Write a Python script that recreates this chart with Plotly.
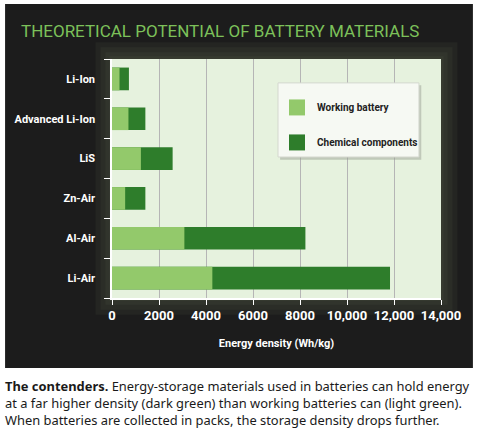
import plotly.graph_objects as go

## data
materials = ['Li-Ion', 'Advanced Li-Ion', 'LiS', 'Zn-Air', 'Al-Air', 'Li-Air']
working_battery = [320, 700, 1230, 560, 3080, 4270]
chemical_components = [720, 1420, 2580, 1420, 8230, 11830]  # total length of dark bar

x_ticks = [0, 2000, 4000, 6000, 8000, 10000, 12000, 14000]
x_ticklabels = ['0', '2000', '4000', '6000', '8000', '10,000', '12,000', '14,000']

LIGHT = '#93c96b'
DARK = '#2e7d2b'
PANEL = '#1c1c1c'
PLOT_BG = '#e6f2de'
FONT = 'Roboto'

fig = go.Figure()

## dark bar first, light one overlays it
fig.add_trace(go.Bar(y=materials, x=chemical_components, orientation='h',
                     marker=dict(color=DARK, line=dict(width=0)),
                     showlegend=False, hoverinfo='x'))
fig.add_trace(go.Bar(y=materials, x=working_battery, orientation='h',
                     marker=dict(color=LIGHT, line=dict(width=0)),
                     showlegend=False, hoverinfo='x'))

## legend entries (square swatches)
fig.add_trace(go.Scatter(x=[None], y=[None], mode='markers', name='Working battery',
                         marker=dict(symbol='square', size=16, color=LIGHT),
                         legendgroup='a'))
fig.add_trace(go.Scatter(x=[None], y=[None], mode='markers', name='Chemical components',
                         marker=dict(symbol='square', size=16, color=DARK),
                         legendgroup='b'))

shapes = [
    dict(type='rect', xref='paper', yref='paper', x0=-0.325, x1=1.097, y0=-0.293, y1=1.23,
         fillcolor=PANEL, line=dict(width=0), layer='below'),
]
## soft glow round the plot area
for pad in [0.05, 0.035, 0.02, 0.008]:
    shapes.append(dict(type='rect', xref='paper', yref='paper',
                       x0=-pad, x1=1 + pad, y0=-pad * 1.4, y1=1 + pad * 1.4,
                       fillcolor='#8a9a6e', opacity=0.07, line=dict(width=0), layer='below'))
shapes.append(dict(type='rect', xref='paper', yref='paper', x0=0, x1=1, y0=0, y1=1,
                   fillcolor=PLOT_BG, line=dict(width=0), layer='below'))
## legend box with a little shadow
shapes.append(dict(type='rect', xref='paper', yref='paper', x0=0.511, x1=0.94, y0=0.578, y1=0.89,
                   fillcolor='#9aa094', opacity=0.5, line=dict(width=0), layer='above'))
shapes.append(dict(type='rect', xref='paper', yref='paper', x0=0.5046, x1=0.933, y0=0.59, y1=0.9,
                   fillcolor='#f6f9f3', line=dict(color='#d4d8cf', width=1), layer='above'))

fig.update_layout(
    width=480, height=436,
    margin=dict(l=112, r=39, t=59, b=138),
    paper_bgcolor='white',
    plot_bgcolor='rgba(0,0,0,0)',
    barmode='overlay',
    bargap=0.43,
    shapes=shapes,
    font=dict(family=FONT, color='white'),
    legend=dict(x=0.5015, y=0.858, xanchor='left', yanchor='top',
                bgcolor='rgba(0,0,0,0)', borderwidth=0,
                font=dict(family=FONT, size=10, color='#222222', weight='bold'),
                tracegroupgap=16, traceorder='grouped', itemwidth=30),
    xaxis=dict(range=[0, 14000], tickvals=x_ticks, ticktext=x_ticklabels,
               showgrid=True, gridcolor='#b5b5b5', gridwidth=1,
               showline=True, linecolor='white', linewidth=1.5,
               ticks='outside', ticklen=5, tickcolor='white',
               tickfont=dict(family=FONT, size=13, color='white', weight='bold'),
               title=dict(text='Energy density (Wh/kg)',
                          font=dict(family=FONT, size=11, color='white', weight='bold'),
                          standoff=17),
               zeroline=False, fixedrange=True, automargin=False),
    yaxis=dict(categoryorder='array', categoryarray=materials[::-1],
               showline=True, linecolor='white', linewidth=1.5,
               ticks='outside', ticklen=6, tickcolor='white', tickson='boundaries',
               tickfont=dict(family=FONT, size=11, color='white', weight='bold'),
               ticklabelstandoff=13, showgrid=False, fixedrange=True, automargin=False),
    annotations=[
        dict(text='THEORETICAL POTENTIAL OF BATTERY MATERIALS',
             xref='paper', yref='paper', x=-0.283, y=1.117, xanchor='left', yanchor='middle',
             showarrow=False, font=dict(family=FONT, size=17, color='#7cc15a')),
        dict(text='<b>The contenders.</b> Energy-storage materials used in batteries can hold energy<br>'
                  'at a far higher density (dark green) than working batteries can (light green).<br>'
                  'When batteries are collected in packs, the storage density drops further.',
             xref='paper', yref='paper', x=-0.33, y=-0.322, xanchor='left', yanchor='top',
             align='left', showarrow=False,
             font=dict(family='Noto Sans', size=12.9, color='#1a1a1a')),
    ],
)

fig.write_html('out.html', config={'displayModeBar': False},
               post_script="document.body.style.margin='0';")
